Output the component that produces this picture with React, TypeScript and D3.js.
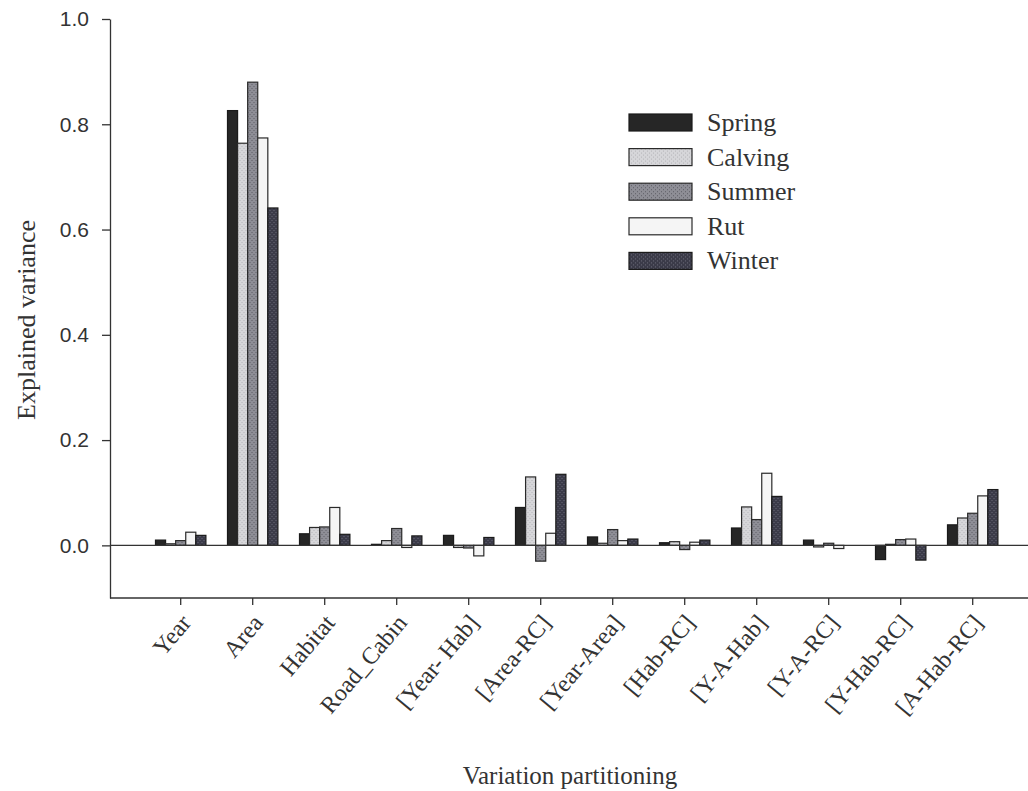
import { useEffect, useRef } from "react";
import * as d3 from "d3";

// categories on the x axis
const partitions: string[] = [
  "Year",
  "Area",
  "Habitat",
  "Road_Cabin",
  "[Year- Hab]",
  "[Area-RC]",
  "[Year-Area]",
  "[Hab-RC]",
  "[Y-A-Hab]",
  "[Y-A-RC]",
  "[Y-Hab-RC]",
  "[A-Hab-RC]",
];

const seasons: string[] = ["Spring", "Calving", "Summer", "Rut", "Winter"];

// explained variance per season, one value per partition
const spring: number[] = [0.01, 0.826, 0.022, 0.002, 0.019, 0.072, 0.016, 0.005, 0.033, 0.01, -0.027, 0.039];
const calving: number[] = [0.003, 0.764, 0.034, 0.009, -0.004, 0.13, 0.004, 0.007, 0.073, -0.003, 0.002, 0.052];
const summer: number[] = [0.009, 0.88, 0.035, 0.032, -0.005, -0.03, 0.03, -0.008, 0.049, 0.004, 0.011, 0.061];
const rut: number[] = [0.025, 0.774, 0.072, -0.004, -0.02, 0.023, 0.009, 0.006, 0.137, -0.006, 0.012, 0.094];
const winter: number[] = [0.019, 0.641, 0.021, 0.018, 0.015, 0.135, 0.012, 0.01, 0.093, 0, -0.028, 0.106];

const yTicks: number[] = [0, 0.2, 0.4, 0.6, 0.8, 1.0];

const seriesValues: number[][] = [spring, calving, summer, rut, winter];

export default function App() {
  const svgRef = useRef<SVGSVGElement | null>(null);

  useEffect(() => {
    const width = 1028;
    const height = 791;
    const left = 110;
    const top = 19;
    const bottom = 598;
    const serif = "'Liberation Serif', 'Times New Roman', serif";

    const svg = d3.select(svgRef.current).attr("width", width).attr("height", height);
    svg.selectAll("*").remove();

    // stipple textures like the scanned fills
    const defs = svg.append("defs");
    const stipple = (id: string, base: string, dot: string) => {
      const p = defs
        .append("pattern")
        .attr("id", id)
        .attr("patternUnits", "userSpaceOnUse")
        .attr("width", 4)
        .attr("height", 4);
      p.append("rect").attr("width", 4).attr("height", 4).attr("fill", base);
      p.append("rect").attr("x", 0).attr("y", 0).attr("width", 1).attr("height", 1).attr("fill", dot);
      p.append("rect").attr("x", 2).attr("y", 2).attr("width", 1).attr("height", 1).attr("fill", dot);
    };
    stipple("pCalving", "#d6d6d9", "#b4b4b8");
    stipple("pSummer", "#8e8e96", "#5e5e66");
    stipple("pWinter", "#3b3b49", "#6a6a78");

    const fills = ["#262626", "url(#pCalving)", "url(#pSummer)", "#f5f5f5", "url(#pWinter)"];
    const strokes = ["#1a1a1a", "#2a2a2a", "#2a2a2a", "#2a2a2a", "#1a1a1a"];

    const x = d3
      .scaleBand()
      .domain(partitions)
      .range([144.7, 1008.7])
      .paddingInner(0.3)
      .paddingOuter(0.15);

    const xs = d3.scaleBand().domain(seasons).range([0, x.bandwidth()]);

    const y = d3.scaleLinear().domain([-0.1, 1.0]).range([bottom, top]);

    // bars
    const rows = partitions.map((p, i) => ({
      p,
      vals: seasons.map((s, j) => ({ s, j, v: seriesValues[j][i] })),
    }));

    const groups = svg
      .append("g")
      .selectAll("g")
      .data(rows)
      .join("g")
      .attr("transform", (d) => `translate(${x(d.p)},0)`);

    groups
      .selectAll("rect")
      .data((d) => d.vals)
      .join("rect")
      .attr("x", (d) => xs(d.s) || 0)
      .attr("y", (d) => y(Math.max(0, d.v)))
      .attr("width", xs.bandwidth())
      .attr("height", (d) => Math.abs(y(d.v) - y(0)))
      .attr("fill", (d) => fills[d.j])
      .attr("stroke", (d) => strokes[d.j])
      .attr("stroke-width", 1.2);

    // zero line
    svg
      .append("line")
      .attr("x1", left)
      .attr("x2", width)
      .attr("y1", y(0))
      .attr("y2", y(0))
      .attr("stroke", "#333")
      .attr("stroke-width", 1.3);

    // y axis
    const yAxis = svg
      .append("g")
      .attr("transform", `translate(${left},0)`)
      .call(
        d3
          .axisLeft(y)
          .tickValues(yTicks)
          .tickFormat(d3.format(".1f"))
          .tickSize(8)
          .tickSizeOuter(0)
          .tickPadding(13)
      );
    yAxis.select(".domain").attr("stroke", "#333").attr("stroke-width", 1.3);
    yAxis.selectAll(".tick line").attr("stroke", "#333").attr("stroke-width", 1.3);
    yAxis
      .selectAll(".tick text")
      .attr("font-family", "'Liberation Sans', Arial, sans-serif")
      .attr("font-size", 21)
      .attr("fill", "#333");

    // x axis
    svg
      .append("line")
      .attr("x1", left)
      .attr("x2", width)
      .attr("y1", bottom)
      .attr("y2", bottom)
      .attr("stroke", "#333")
      .attr("stroke-width", 1.3);

    const xAxis = svg
      .append("g")
      .attr("transform", `translate(0,${bottom})`)
      .call(d3.axisBottom(x).tickSize(7).tickSizeOuter(0));
    xAxis.select(".domain").remove();
    xAxis.selectAll(".tick line").attr("stroke", "#333").attr("stroke-width", 1.3);
    xAxis
      .selectAll(".tick text")
      .attr("font-family", serif)
      .attr("font-size", 24)
      .attr("fill", "#333")
      .attr("text-anchor", "end")
      .attr("dy", "0.35em")
      .attr("y", 0)
      .attr("transform", "translate(5,20) rotate(-50)");

    // axis titles
    svg
      .append("text")
      .attr("transform", "translate(35,320) rotate(-90)")
      .attr("text-anchor", "middle")
      .attr("font-family", serif)
      .attr("font-size", 26)
      .attr("fill", "#333")
      .text("Explained variance");

    svg
      .append("text")
      .attr("x", 570)
      .attr("y", 784)
      .attr("text-anchor", "middle")
      .attr("font-family", serif)
      .attr("font-size", 25)
      .attr("fill", "#333")
      .text("Variation partitioning");

    // legend
    const legend = svg
      .append("g")
      .selectAll("g")
      .data(seasons)
      .join("g")
      .attr("transform", (_, i) => `translate(629,${114 + i * 34.6})`);

    legend
      .append("rect")
      .attr("width", 63)
      .attr("height", 17)
      .attr("fill", (_, i) => fills[i])
      .attr("stroke", (_, i) => strokes[i])
      .attr("stroke-width", 1.2);

    legend
      .append("text")
      .attr("x", 78)
      .attr("y", 17)
      .attr("font-family", serif)
      .attr("font-size", 26)
      .attr("fill", "#333")
      .text((d) => d);
  }, []);

  return (
    <div style={{ position: "absolute", left: 0, top: 0 }}>
      <svg ref={svgRef}></svg>
    </div>
  );
}
